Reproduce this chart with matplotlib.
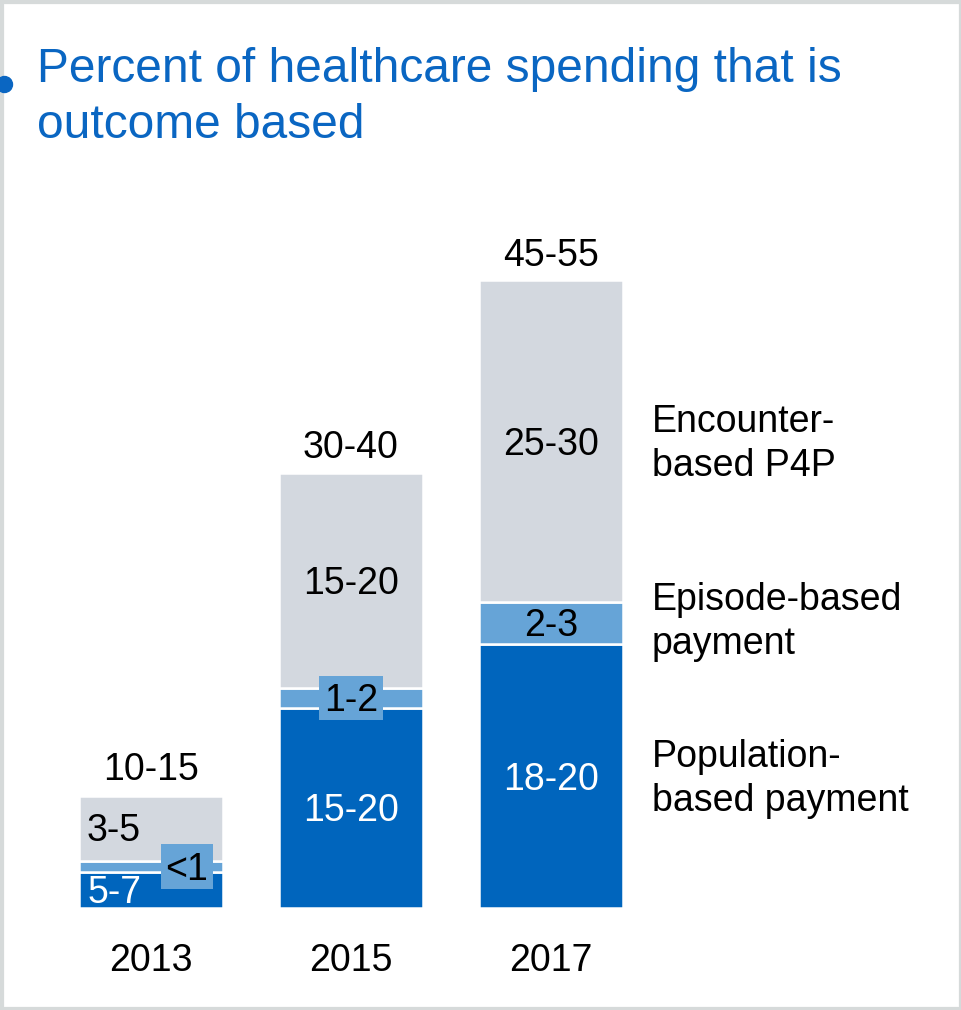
import matplotlib
matplotlib.use("Agg")
import matplotlib.pyplot as plt
from matplotlib.patches import Rectangle
from matplotlib.lines import Line2D
import numpy as np

plt.rcParams['font.family'] = ['Liberation Sans', 'DejaVu Sans']

# ---- data -------------------------------------------------------------
years = ["2013", "2015", "2017"]
population = [2.9, 16.0, 21.1]      # population-based payment
episode = [0.9, 1.6, 3.4]           # episode-based payment
encounter = [5.2, 17.2, 25.7]       # encounter-based P4P

population_labels = ["5-7", "15-20", "18-20"]
episode_labels = ["<1", "1-2", "2-3"]
encounter_labels = ["3-5", "15-20", "25-30"]
total_labels = ["10-15", "30-40", "45-55"]

series_names = ["Population-\nbased payment", "Episode-based\npayment", "Encounter-\nbased P4P"]
title_lines = ["Percent of healthcare spending that is", "outcome based"]

# ---- style ------------------------------------------------------------
DARK = "#0065bd"
LIGHT = "#66a4d7"
GRAY = "#d3d8df"
TITLE = "#0a66c2"
FRAME = "#d6dada"
FS = 27
TITLE_FS = 34.5

W, H = 962, 1010
fig = plt.figure(figsize=(W / 100, H / 100), dpi=100)
fig.patch.set_facecolor("white")

# plot area: x spans 51..651 px, y spans 158..908 px
ax = fig.add_axes([51 / W, (H - 908) / H, 600 / W, 750 / H])
ax.set_xlim(-0.5, 2.5)
ax.set_ylim(0, 60)
ax.axis("off")

x = np.arange(len(years))
pop = np.array(population)
epi = np.array(episode)
enc = np.array(encounter)
bw = 0.72

bar_kw = dict(width=bw, edgecolor="white", linewidth=1.8)
ax.bar(x, pop, color=DARK, **bar_kw)
ax.bar(x, epi, bottom=pop, color=LIGHT, **bar_kw)
ax.bar(x, enc, bottom=pop + epi, color=GRAY, **bar_kw)
tops = pop + epi + enc

# half the digit height in points, to centre numerals on a y position
HALF = 0.358 * FS


def centered(text, xy, color="black", dx=0, ha="center"):
    ax.annotate(text, xy=xy, xytext=(dx, -HALF), textcoords="offset points",
                ha=ha, va="baseline", fontsize=FS, color=color)


# totals above bars
for xi, t, lab in zip(x, tops, total_labels):
    ax.annotate(lab, xy=(xi, t), xytext=(0, 10.8), textcoords="offset points",
                ha="center", va="baseline", fontsize=FS, color="black")

# year labels
for xi, lab in zip(x, years):
    ax.annotate(lab, xy=(xi, 0), xytext=(0, -45.4), textcoords="offset points",
                ha="center", va="baseline", fontsize=FS, color="black")

# first bar is short: labels sit at its left edge, episode label in a tab
left0 = x[0] - bw / 2
centered(population_labels[0], (left0, pop[0] / 2), color="white", dx=5.8, ha="left")
centered(encounter_labels[0], (left0, pop[0] + epi[0] + enc[0] / 2), dx=5.8, ha="left")

# other bars: centred labels
for i in (1, 2):
    centered(population_labels[i], (x[i], pop[i] / 2), color="white")
    centered(encounter_labels[i], (x[i], pop[i] + epi[i] + enc[i] / 2))

# episode labels: tabs on thin segments, plain text on the thick one
tabs = {0: (0.18, 0.26, 3.6), 1: (0.0, 0.32, 3.52)}
for i in range(3):
    ymid = pop[i] + epi[i] / 2
    if i in tabs:
        dx, tw, th = tabs[i]
        ax.add_patch(Rectangle((x[i] + dx - tw / 2, ymid - th / 2), tw, th,
                               facecolor=LIGHT, edgecolor="none", zorder=3))
        ax.annotate(episode_labels[i], xy=(x[i] + dx, ymid), xytext=(0, -HALF),
                    textcoords="offset points", ha="center", va="baseline",
                    fontsize=FS, color="black", zorder=4)
    else:
        centered(episode_labels[i], (x[i], ymid))

# series names on the right (baselines in px from top)
name_baselines = [(767, 811), (610, 654), (432, 476)]
for name, (b1, b2) in zip(series_names, name_baselines):
    l1, l2 = name.split("\n")
    fig.text(652 / W, 1 - b1 / H, l1, fontsize=FS, ha="left", va="baseline")
    fig.text(652 / W, 1 - b2 / H, l2, fontsize=FS, ha="left", va="baseline")

# title
fig.text(37 / W, 1 - 82 / H, title_lines[0], fontsize=TITLE_FS, color=TITLE,
         ha="left", va="baseline")
fig.text(37 / W, 1 - 138 / H, title_lines[1], fontsize=TITLE_FS, color=TITLE,
         ha="left", va="baseline")
fig.add_artist(Line2D([4 / W], [1 - 84 / H], marker="o", markersize=11.5,
                      color=TITLE, linestyle="none", transform=fig.transFigure))

# frame around the panel
fig.add_artist(Rectangle((0, 0), 1, 1, transform=fig.transFigure, fill=False,
                         edgecolor=FRAME, linewidth=5.2))

fig.savefig("out.png", dpi=100, facecolor="white")
